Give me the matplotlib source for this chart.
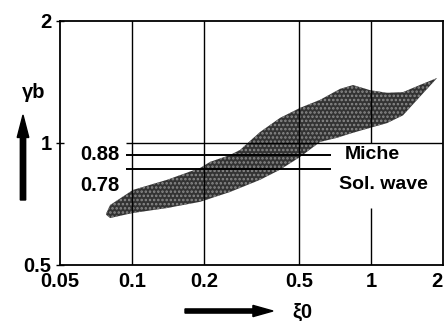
import numpy as np
import matplotlib
matplotlib.use("Agg")
import matplotlib.pyplot as plt

# band of measured breaker index vs surf similarity parameter
upper_x = [0.078, 0.081, 0.101, 0.140, 0.193, 0.212, 0.257, 0.283, 0.343,
           0.416, 0.505, 0.612, 0.742, 0.841, 0.991, 1.168, 1.36, 1.60, 1.89]
upper_y = [0.670, 0.703, 0.766, 0.811, 0.868, 0.898, 0.934, 0.961, 1.064,
           1.153, 1.221, 1.278, 1.36, 1.39, 1.35, 1.33, 1.335, 1.39, 1.447]
lower_x = [1.89, 1.60, 1.36, 1.168, 0.991, 0.841, 0.721, 0.612, 0.505,
           0.416, 0.343, 0.257, 0.193, 0.140, 0.101, 0.081, 0.078]
lower_y = [1.447, 1.30, 1.17, 1.12, 1.09, 1.06, 1.03, 1.006, 0.924,
           0.859, 0.811, 0.757, 0.716, 0.691, 0.672, 0.653, 0.665]

x_ticks = [0.05, 0.1, 0.2, 0.5, 1, 2]
x_ticklabels = ["0.05", "0.1", "0.2", "0.5", "1", "2"]
y_ticks = [0.5, 1, 2]
y_ticklabels = ["0.5", "1", "2"]

miche = 0.935
sol_wave = 0.863

plt.rcParams['font.family'] = ['Liberation Sans', 'DejaVu Sans']
plt.rcParams['font.weight'] = 'bold'
plt.rcParams['hatch.linewidth'] = 1.2

fig = plt.figure(figsize=(4.46, 3.21), dpi=100)
ax = fig.add_axes([60 / 446, 56 / 321, 383 / 446, 244 / 321])
ax.set_xscale('log')
ax.set_yscale('log')
ax.set_xlim(0.05, 2)
ax.set_ylim(0.5, 2)

# shaded band
bx = upper_x + lower_x
by = upper_y + lower_y
ax.fill(bx, by, facecolor='#333333', edgecolor='#8a8a8a', hatch='....',
        linewidth=0, zorder=2)

# grid lines
for xv in [0.1, 0.2, 0.5]:
    ax.axvline(xv, color='k', lw=1.0, zorder=3)
ax.vlines(1, 1.0, 2, color='k', lw=1.0, zorder=3)
ax.vlines(1, 0.5, 0.69, color='k', lw=1.0, zorder=3)
ax.hlines(1, 0.094, 2, color='k', lw=1.0, zorder=3)

# reference levels
ax.hlines([miche, sol_wave], 0.094, 0.68, color='k', lw=1.4, zorder=3)
ax.text(0.089, miche, "0.88", ha='right', va='center', fontsize=14.5,
        fontweight='bold', clip_on=False)
ax.text(0.089, 0.785, "0.78", ha='right', va='center', fontsize=14.5,
        fontweight='bold', clip_on=False)
ax.text(0.78, miche, "Miche", ha='left', va='center', fontsize=14,
        fontweight='bold')
ax.text(0.735, 0.79, "Sol. wave", ha='left', va='center', fontsize=14,
        fontweight='bold')

ax.set_xticks(x_ticks)
ax.set_xticklabels(x_ticklabels)
ax.set_yticks(y_ticks)
ax.set_yticklabels(y_ticklabels)
ax.minorticks_off()
ax.tick_params(axis='x', length=0, pad=5, labelsize=14.5)
ax.tick_params(axis='y', length=6, direction='inout', pad=3, labelsize=14.5,
               width=1.0)
for lab in ax.get_xticklabels() + ax.get_yticklabels():
    lab.set_fontweight('bold')
ax.get_xticklabels()[-1].set_horizontalalignment('right')
for s in ax.spines.values():
    s.set_linewidth(1.3)

# axis labels with arrows
fig.text(34 / 446, 1 - 93 / 321, "γb", ha='center', va='center',
         fontsize=14.5, fontweight='bold')
fig.patches.append(matplotlib.patches.FancyArrow(
    23 / 446, 1 - 200 / 321, 0, 85 / 321, width=0.012, head_width=0.026,
    head_length=0.07, length_includes_head=True, color='k',
    transform=fig.transFigure, figure=fig))
fig.text(302 / 446, 1 - 312 / 321, "ξ0", ha='center', va='center',
         fontsize=14.5, fontweight='bold')
fig.patches.append(matplotlib.patches.FancyArrow(
    185 / 446, 1 - 311 / 321, 88 / 446, 0, width=0.013, head_width=0.035,
    head_length=0.045, length_includes_head=True, color='k',
    transform=fig.transFigure, figure=fig))

fig.savefig('out.png', dpi=100)
